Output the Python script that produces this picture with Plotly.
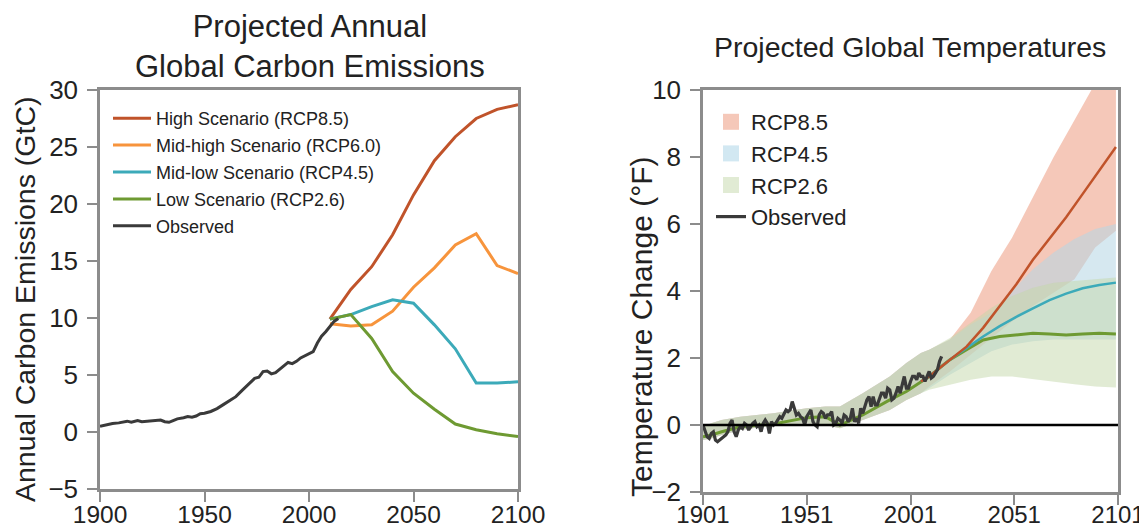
import plotly.graph_objects as go

# page is shown with an 8px body margin; size figure so it fits the 1147x531 window
OFF = 8
W, H = 1147 - OFF, 531 - OFF


def fx(xpage):
    return (xpage - OFF) / W


def fy(ypage):
    return 1 - (ypage - OFF) / H


# ---------------- Left panel: emissions (GtC) ----------------
em_obs_years = [1900, 1903, 1906, 1909, 1911, 1913, 1915, 1918, 1920, 1923, 1926, 1929, 1931, 1933,
                1935, 1937, 1940, 1942, 1944, 1946, 1948, 1950, 1953, 1956, 1959, 1962, 1965, 1968,
                1970, 1972, 1974, 1976, 1978, 1980, 1982, 1984, 1986, 1988, 1990, 1992, 1994, 1996,
                1998, 2000, 2002, 2004, 2006, 2008, 2010, 2012, 2014]
em_obs_values = [0.5, 0.65, 0.75, 0.8, 0.85, 0.95, 0.85, 1.0, 0.9, 0.95, 1.0, 1.05, 0.9, 0.85,
                 1.0, 1.15, 1.25, 1.35, 1.3, 1.4, 1.6, 1.65, 1.8, 2.05, 2.4, 2.75, 3.1, 3.65,
                 4.0, 4.35, 4.7, 4.8, 5.3, 5.35, 5.1, 5.2, 5.5, 5.85, 6.1, 6.0, 6.2, 6.5,
                 6.7, 6.85, 7.05, 7.8, 8.4, 8.8, 9.3, 9.7, 9.95]

em_rcp_years = [2010, 2020, 2030, 2040, 2050, 2060, 2070, 2080, 2090, 2100]
em_rcp85 = [9.9, 12.5, 14.5, 17.3, 20.8, 23.8, 25.9, 27.5, 28.3, 28.7]
em_rcp60 = [9.5, 9.3, 9.4, 10.6, 12.7, 14.4, 16.4, 17.4, 14.6, 13.9]
em_rcp45 = [9.9, 10.3, 11.0, 11.6, 11.3, 9.4, 7.3, 4.3, 4.3, 4.4]
em_rcp26 = [9.9, 10.3, 8.2, 5.3, 3.4, 2.0, 0.7, 0.2, -0.15, -0.4]

em_names = ["High Scenario (RCP8.5)", "Mid-high Scenario (RCP6.0)",
            "Mid-low Scenario (RCP4.5)", "Low Scenario (RCP2.6)", "Observed"]

# ---------------- Right panel: temperature change (°F) ----------------
t_obs_years = list(range(1901, 2017))
t_obs_values = [0.0, -0.2, -0.35, -0.4, -0.25, -0.2, -0.45, -0.5, -0.45, -0.4,
                -0.35, -0.3, -0.2, 0.05, 0.15, -0.2, -0.35, -0.15, -0.05, -0.1,
                0.05, 0.0, -0.15, -0.05, 0.05, 0.1, -0.05, 0.0, -0.2, 0.05,
                0.15, 0.05, -0.25, 0.1, 0.0, 0.05, 0.15, 0.25, 0.2, 0.35,
                0.45, 0.4, 0.45, 0.7, 0.5, 0.3, 0.35, 0.25, 0.2, 0.0,
                0.25, 0.35, 0.45, 0.1, 0.0, -0.05, 0.3, 0.4, 0.35, 0.2,
                0.3, 0.3, 0.4, 0.0, 0.05, 0.2, 0.15, 0.05, 0.3, 0.25,
                0.1, 0.2, 0.5, 0.1, 0.2, 0.05, 0.5, 0.35, 0.55, 0.75,
                0.85, 0.55, 0.85, 0.6, 0.6, 0.75, 0.95, 0.95, 0.8, 1.1,
                1.05, 0.75, 0.8, 0.95, 1.15, 0.95, 1.2, 1.45, 1.1, 1.1,
                1.3, 1.45, 1.45, 1.35, 1.55, 1.45, 1.45, 1.3, 1.45, 1.6,
                1.4, 1.45, 1.55, 1.65, 1.9, 2.05]

hist_years = [1901, 1905, 1910, 1919, 1935, 1951, 1960, 1967, 1978, 1991, 1999]
hist_upper = [-0.05, 0.05, 0.15, 0.25, 0.35, 0.5, 0.55, 0.55, 0.95, 1.45, 1.85]
hist_lower = [-0.45, -0.4, -0.3, -0.15, 0.0, 0.05, 0.0, -0.1, 0.15, 0.45, 0.75]
hist_mean = [-0.35, -0.3, -0.2, -0.05, 0.03, 0.22, 0.25, 0.0, 0.3, 0.75, 1.0]

band_years = [2006, 2010, 2020, 2030, 2040, 2050, 2060, 2070, 2080, 2090, 2100]
rcp85_upper = [2.15, 2.25, 2.55, 3.35, 4.6, 5.6, 6.8, 8.0, 9.1, 10.2, 11.3]
rcp85_lower = [0.95, 1.15, 1.6, 2.1, 2.6, 3.1, 3.55, 3.95, 4.35, 5.3, 5.8]
rcp45_upper = [2.15, 2.25, 2.55, 3.0, 3.35, 4.0, 4.65, 5.15, 5.55, 5.85, 6.0]
rcp45_lower = [0.95, 1.1, 1.5, 1.85, 2.2, 2.4, 2.5, 2.55, 2.55, 2.55, 2.55]
rcp26_upper = [2.15, 2.25, 2.6, 3.05, 3.5, 3.85, 4.1, 4.25, 4.3, 4.35, 4.4]
rcp26_lower = [0.95, 1.05, 1.2, 1.35, 1.45, 1.45, 1.38, 1.3, 1.22, 1.15, 1.12]

proj_years = [2006, 2010, 2017, 2020, 2028, 2036, 2044, 2052, 2060, 2068, 2076, 2084, 2092, 2100]
t_rcp85 = [1.3, 1.45, 1.8, 1.95, 2.34, 2.9, 3.55, 4.2, 4.93, 5.55, 6.2, 6.9, 7.6, 8.3]
t_rcp45 = [1.3, 1.45, 1.8, 1.95, 2.3, 2.64, 2.95, 3.23, 3.48, 3.73, 3.92, 4.08, 4.18, 4.25]
t_rcp26 = [1.3, 1.45, 1.8, 1.95, 2.25, 2.54, 2.64, 2.7, 2.74, 2.72, 2.69, 2.72, 2.74, 2.72]

band_names = ["RCP8.5", "RCP4.5", "RCP2.6"]

# ---------------- Styles ----------------
C85 = "#C0532A"
C60 = "#F7943C"
C45 = "#3CAAB9"
C26 = "#6E9A32"
COBS = "#3A3A3A"
F85 = "rgba(235,145,115,0.5)"
F45 = "rgba(182,214,228,0.56)"
F26 = "rgba(195,215,169,0.5)"
AX = "#8C8C8C"
TXT = "#222222"
FONT = "Liberation Sans, Arial, Helvetica, sans-serif"

fig = go.Figure()

# Left panel lines
for name, ys, col in [(em_names[0], em_rcp85, C85), (em_names[1], em_rcp60, C60),
                      (em_names[2], em_rcp45, C45), (em_names[3], em_rcp26, C26)]:
    fig.add_trace(go.Scatter(x=em_rcp_years, y=ys, mode="lines", name=name,
                             line=dict(color=col, width=3), xaxis="x", yaxis="y",
                             legend="legend", legendgroup=name))
fig.add_trace(go.Scatter(x=em_obs_years, y=em_obs_values, mode="lines", name=em_names[4],
                         line=dict(color=COBS, width=3), xaxis="x", yaxis="y",
                         legend="legend", legendgroup="obs_em"))

# Right panel bands
for name, up, lo, fc in [(band_names[0], rcp85_upper, rcp85_lower, F85),
                         (band_names[1], rcp45_upper, rcp45_lower, F45),
                         (band_names[2], rcp26_upper, rcp26_lower, F26)]:
    xs = hist_years + band_years + band_years[::-1] + hist_years[::-1]
    ys = hist_upper + up + lo[::-1] + hist_lower[::-1]
    fig.add_trace(go.Scatter(x=xs, y=ys, mode="lines", fill="toself", fillcolor=fc,
                             line=dict(width=0), hoverinfo="skip", showlegend=False,
                             xaxis="x2", yaxis="y2"))

# Right panel lines
fig.add_trace(go.Scatter(x=hist_years + proj_years, y=hist_mean + t_rcp26, mode="lines",
                         line=dict(color=C26, width=3), showlegend=False, xaxis="x2", yaxis="y2"))
fig.add_trace(go.Scatter(x=proj_years, y=t_rcp45, mode="lines",
                         line=dict(color=C45, width=2.5), showlegend=False, xaxis="x2", yaxis="y2"))
fig.add_trace(go.Scatter(x=proj_years, y=t_rcp85, mode="lines",
                         line=dict(color=C85, width=2.5), showlegend=False, xaxis="x2", yaxis="y2"))
fig.add_trace(go.Scatter(x=t_obs_years, y=t_obs_values, mode="lines", name="Observed",
                         line=dict(color=COBS, width=3.2), xaxis="x2", yaxis="y2",
                         legend="legend2", legendrank=4))

# Legend entries for bands
for i, (name, fc) in enumerate(zip(band_names, ["rgba(245,200,185,1)", "rgba(210,232,242,1)",
                                                 "rgba(225,235,212,1)"])):
    fig.add_trace(go.Scatter(x=[None], y=[None], mode="markers", name=name,
                             marker=dict(symbol="square", size=22, color=fc),
                             xaxis="x2", yaxis="y2", legend="legend2", legendrank=i + 1))

# zero reference line on right panel
fig.add_shape(type="line", xref="x2 domain", yref="y2", x0=0, x1=1, y0=0, y1=0,
              line=dict(color="black", width=2.5))

axis_common = dict(showline=True, mirror=True, linecolor=AX, linewidth=2.5,
                   ticks="outside", ticklen=10, tickwidth=2, tickcolor=AX,
                   showgrid=False, zeroline=False, automargin=False,
                   ticklabeloverflow="allow")
ytick = dict(tickfont=dict(size=26, color=TXT), ticklabelstandoff=4)

fig.update_layout(
    width=W, height=H, margin=dict(l=0, r=0, t=0, b=0, autoexpand=False),
    paper_bgcolor="white", plot_bgcolor="white",
    font=dict(family=FONT, color=TXT, size=25),
    xaxis=dict(domain=[fx(100), fx(518)], range=[1900, 2100], tick0=1900, dtick=50,
               anchor="y", tickfont=dict(size=24.5, color=TXT), ticklabelstandoff=-8,
               **axis_common),
    yaxis=dict(domain=[fy(489), fy(90)], range=[-5, 30], tick0=0, dtick=5,
               anchor="x", **ytick, **axis_common),
    xaxis2=dict(domain=[fx(703), fx(1118)], range=[1901, 2101], tick0=1901, dtick=50,
                anchor="y2", tickfont=dict(size=24, color=TXT), ticklabelstandoff=-11,
                **axis_common),
    yaxis2=dict(domain=[fy(492), fy(90)], range=[-2, 10], tick0=0, dtick=2,
                anchor="x2", **ytick, **axis_common),
    legend=dict(x=fx(108), y=fy(100), xanchor="left", yanchor="top",
                font=dict(size=18, color=TXT), itemwidth=38, tracegroupgap=0.5,
                bgcolor="rgba(0,0,0,0)", traceorder="grouped"),
    legend2=dict(x=fx(711), y=fy(101), xanchor="left", yanchor="top",
                 font=dict(size=22, color=TXT), bgcolor="rgba(0,0,0,0)",
                 traceorder="normal"),
    showlegend=True,
    annotations=[
        dict(text="Projected Annual<br>Global Carbon Emissions", x=fx(310), y=fy(46),
             xref="paper", yref="paper", showarrow=False, xanchor="center", yanchor="middle",
             font=dict(size=31, color=TXT)),
        dict(text="Projected Global Temperatures", x=fx(910), y=fy(47),
             xref="paper", yref="paper", showarrow=False, xanchor="center", yanchor="middle",
             font=dict(size=28.5, color=TXT)),
        dict(text="Annual Carbon Emissions (GtC)", x=fx(25), y=fy(299), textangle=-90,
             xref="paper", yref="paper", showarrow=False, xanchor="center", yanchor="middle",
             font=dict(size=28.5, color=TXT)),
        dict(text="Temperature Change (°F)", x=fx(641), y=fy(327), textangle=-90,
             xref="paper", yref="paper", showarrow=False, xanchor="center", yanchor="middle",
             font=dict(size=30, color=TXT)),
    ],
)

fig.write_html("out.html")
